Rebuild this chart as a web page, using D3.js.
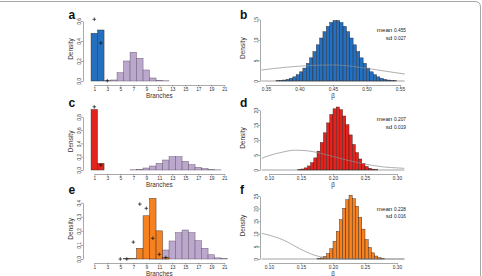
<!DOCTYPE html>
<html><head><meta charset="utf-8">
<script src="https://cdn.jsdelivr.net/npm/d3@7/dist/d3.min.js"></script>
<style>
html,body{margin:0;padding:0;background:#fff;}
svg{display:block;font-family:"Liberation Sans",Arial,sans-serif;}
</style></head>
<body>
<svg id="c" width="482" height="276"></svg>
<script>
// ---------- data ----------
const branchTicks = [1,3,5,7,9,11,13,15,17,19,21];
const branchCats = [1,2,3,4,5,6,7,8,9,10,11,12,13,14,15,16,17,18,19,20,21];

// panel a
const aPrior = [0,0,0,0.01,0.083,0.2,0.287,0.227,0.11,0.03,0.006,0.002,0,0,0,0,0,0,0,0,0];
const aPost  = [0.477,0.51,0.002,0,0,0,0,0,0,0,0,0,0,0,0,0,0,0,0,0,0];
const aPlusK = [1,2,3];
const aPlusV = [0.617,0.38,0.003];
const aYTicks = [0,0.2,0.4,0.6];

// panel c
const cPrior = [0,0,0,0,0,0,0.003,0.01,0.03,0.06,0.1,0.15,0.2,0.2,0.13,0.08,0.04,0.02,0.006,0.002,0];
const cPost  = [0.91,0.1,0,0,0,0,0,0,0,0,0,0,0,0,0,0,0,0,0,0,0];
const cPlusK = [1,2];
const cPlusV = [0.95,0.075];
const cYTicks = [0,0.2,0.4,0.6,0.8];

// panel e
const ePrior = [0,0,0,0,0,0,0,0,0,0.005,0.02,0.064,0.128,0.187,0.206,0.187,0.13,0.076,0.03,0.008,0.002];
const ePost  = [0,0,0,0,0,0.002,0.004,0.076,0.307,0.43,0.2,0.01,0,0,0,0,0,0,0,0,0];
const ePlusK = [5,6,7,8,9,10,11,12];
const ePlusV = [0.0,0.0,0.12,0.39,0.36,0.147,0.033,0.01];
const eYTicks = [0,0.1,0.2,0.3,0.4];

// panel b (beta posterior histogram, bin lower edges, width 0.005)
const bBins = [0.365,0.370,0.375,0.380,0.385,0.390,0.395,0.400,0.405,0.410,0.415,0.420,0.425,0.430,0.435,0.440,0.445,0.450,0.455,0.460,0.465,0.470,0.475,0.480,0.485,0.490,0.495,0.500,0.505,0.510,0.515,0.520,0.525,0.530,0.535,0.540];
const bDens = [0.07,0.14,0.24,0.40,0.65,1.01,1.53,2.23,3.14,4.28,5.63,7.16,8.80,10.45,11.98,13.28,14.22,14.72,14.72,14.22,13.28,11.98,10.45,8.80,7.16,5.63,4.28,3.14,2.23,1.53,1.01,0.65,0.40,0.24,0.14,0.07];
const bPriorX = [0.343,0.36,0.38,0.40,0.42,0.44,0.45,0.46,0.48,0.50,0.52,0.54,0.557];
const bPriorY = [2.67,3.0,3.35,3.6,3.8,3.88,3.9,3.85,3.55,3.1,2.6,2.1,1.7];
const bXTicks = [0.35,0.40,0.45,0.50,0.55];
const bYTicks = [0,5,10,15];

// panel d
const dBins = [0.145,0.150,0.155,0.160,0.165,0.170,0.175,0.180,0.185,0.190,0.195,0.200,0.205,0.210,0.215,0.220,0.225,0.230,0.235,0.240,0.245,0.250,0.255,0.260,0.265];
const dDens = [0.16,0.34,0.71,1.35,2.42,4.04,6.29,9.15,12.4,15.7,18.5,20.4,21.0,20.1,18.0,15.1,11.7,8.5,5.8,3.67,2.17,1.19,0.61,0.29,0.13];
const dPriorX = [0.0886,0.10,0.12,0.14,0.16,0.18,0.20,0.22,0.24,0.26,0.28,0.30,0.3114];
const dPriorY = [3.9,4.8,5.9,6.6,6.4,5.6,4.5,3.4,2.4,1.6,1.0,0.7,0.55];
const dXTicks = [0.10,0.15,0.20,0.25,0.30];
const dYTicks = [0,5,10,15,20];

// panel f
const fBins = [0.175,0.180,0.185,0.190,0.195,0.200,0.205,0.210,0.215,0.220,0.225,0.230,0.235,0.240,0.245,0.250,0.255,0.260,0.265,0.270,0.275];
const fDens = [0.17,0.44,1.01,2.12,4.05,7.0,10.96,15.6,20.1,23.5,25.3,23.9,20.9,16.5,11.85,7.71,4.55,2.44,1.18,0.52,0.21];
const fPriorX = [0.0886,0.10,0.11,0.12,0.13,0.14,0.15,0.16,0.17,0.18,0.19,0.20,0.22,0.25,0.3114];
const fPriorY = [10.2,9.5,8.7,7.8,6.6,5.2,3.8,2.6,1.6,0.9,0.45,0.2,0.05,0.0,0.0];
const fXTicks = [0.10,0.15,0.20,0.25,0.30];
const fYTicks = [0,5,10,15,20,25];

const binW = 0.005;

// ---------- drawing ----------
const svg = d3.select("#c");
const FONT_TICK = 4.8;

// frame (rounded border partly visible)
svg.append("path").attr("d","M0,1.5 H475 Q480.5,1.5 480.5,7 V276")
  .attr("fill","none").attr("stroke","#a6a6a6").attr("stroke-width",1);

function yAxis(g, y, ticks, fmt){
  const ax = d3.axisLeft(y).tickValues(ticks).tickFormat(fmt).tickSize(2).tickSizeOuter(0);
  g.call(ax);
  g.select(".domain").attr("stroke","#555").attr("stroke-width",0.5);
  g.selectAll(".tick line").attr("stroke","#555").attr("stroke-width",0.5);
  g.selectAll(".tick text").attr("font-size",FONT_TICK).attr("fill","#333")
    .attr("transform","rotate(-90)").attr("x",0).attr("y",-2.5).attr("dy",0)
    .attr("text-anchor","middle").attr("font-family","'Liberation Sans',Arial,sans-serif");
}
function xAxis(g, x, ticks, fmt){
  const ax = d3.axisBottom(x).tickValues(ticks).tickFormat(fmt).tickSize(1.6).tickSizeOuter(0).tickPadding(1);
  g.call(ax);
  g.select(".domain").attr("stroke","#555").attr("stroke-width",0.5);
  g.selectAll(".tick line").attr("stroke","#555").attr("stroke-width",0.5);
  g.selectAll(".tick text").attr("font-size",FONT_TICK).attr("fill","#333")
    .attr("font-family","'Liberation Sans',Arial,sans-serif");
}
function plus(g, cx, cy){
  g.append("path").attr("d",`M${cx-1.8},${cy}H${cx+1.8}M${cx},${cy-1.8}V${cy+1.8}`)
    .attr("stroke","#111").attr("stroke-width",0.7);
}
function letter(x, y, t){
  svg.append("text").attr("x",x).attr("y",y).attr("font-size",12).attr("font-weight","bold")
    .attr("fill","#111").text(t);
}
function ylabel(x, y, t){
  svg.append("text").attr("transform",`translate(${x},${y}) rotate(-90)`).attr("text-anchor","middle")
    .attr("font-size",6.5).attr("fill","#333").attr("dy","0.35em").text(t);
}

const xB = d3.scaleLinear().domain([1,21]).range([94.3,224.3]);

function leftPanel(cfg){
  const y = d3.scaleLinear().domain([0, cfg.yTicks[cfg.yTicks.length-1]]).range([cfg.base, cfg.top]);
  const g = svg.append("g");
  g.selectAll("rect.pr").data(branchCats.map((k,i)=>({k, v:cfg.prior[i]})).filter(d=>d.v>0))
    .enter().append("rect")
    .attr("x",d=>xB(d.k-0.5)).attr("width",d=>xB(d.k+0.5)-xB(d.k-0.5))
    .attr("y",d=>y(d.v)).attr("height",d=>cfg.base-y(d.v))
    .attr("fill","#bca8cd").attr("stroke","#5e5268").attr("stroke-width",0.45);
  g.selectAll("rect.po").data(branchCats.map((k,i)=>({k, v:cfg.post[i]})).filter(d=>d.v>0))
    .enter().append("rect")
    .attr("x",d=>xB(d.k-0.5)).attr("width",d=>xB(d.k+0.5)-xB(d.k-0.5))
    .attr("y",d=>y(d.v)).attr("height",d=>cfg.base-y(d.v))
    .attr("fill",cfg.color).attr("stroke","#3a2a2a").attr("stroke-width",0.45);
  cfg.plusK.forEach((k,i)=>plus(g, xB(k), y(cfg.plusV[i])));
  yAxis(svg.append("g").attr("transform","translate(83,0)"), y, cfg.yTicks, d3.format(".1f"));
  xAxis(svg.append("g").attr("transform",`translate(0,${cfg.base+4})`), xB, branchTicks, d3.format("d"));
  svg.append("text").attr("x",(xB(1)+xB(21))/2).attr("y",cfg.base+17.3).attr("text-anchor","middle")
    .attr("font-size",6.3).attr("fill","#333").text("Branches");
  ylabel(71,(cfg.base+cfg.top)/2-2,"Density");
  letter(68.5, cfg.letterY, cfg.letter);
}

function rightPanel(cfg){
  const x = d3.scaleLinear().domain(cfg.xDom).range(cfg.xRange);
  const y = d3.scaleLinear().domain([0, cfg.yTicks[cfg.yTicks.length-1]]).range([cfg.base, cfg.top]);
  const g = svg.append("g");
  g.selectAll("rect").data(cfg.bins.map((b,i)=>({b, v:cfg.dens[i]})))
    .enter().append("rect")
    .attr("x",d=>x(d.b)).attr("width",d=>x(d.b+binW)-x(d.b))
    .attr("y",d=>y(d.v)).attr("height",d=>cfg.base-y(d.v))
    .attr("fill",cfg.color).attr("stroke","#2a1d1d").attr("stroke-width",0.4);
  g.append("line").attr("x1",x(cfg.priorX[0])).attr("x2",x(cfg.priorX[cfg.priorX.length-1]))
    .attr("y1",cfg.base).attr("y2",cfg.base).attr("stroke","#444").attr("stroke-width",0.5);
  const line = d3.line().x(d=>x(d[0])).y(d=>y(d[1])).curve(d3.curveMonotoneX);
  g.append("path").datum(cfg.priorX.map((v,i)=>[v,cfg.priorY[i]])).attr("d",line)
    .attr("fill","none").attr("stroke","#8c8c8c").attr("stroke-width",0.7);
  yAxis(svg.append("g").attr("transform","translate(260,0)"), y, cfg.yTicks, d3.format("d"));
  xAxis(svg.append("g").attr("transform",`translate(0,${cfg.base+4})`), x, cfg.xTicks, d3.format(".2f"));
  svg.append("text").attr("x",x((cfg.xTicks[0]+cfg.xTicks[cfg.xTicks.length-1])/2)).attr("y",cfg.base+17.3)
    .attr("text-anchor","middle").attr("font-size",6.3).attr("fill","#333").text("β");
  ylabel(243,(cfg.base+cfg.top)/2-2,"Density");
  letter(240, cfg.letterY, cfg.letter);
  const t1 = svg.append("text").attr("x",406).attr("y",cfg.meanY).attr("text-anchor","end").attr("fill","#222");
  t1.append("tspan").attr("font-size",6.2).text("mean ");
  t1.append("tspan").attr("font-size",4.8).text(cfg.mean);
  const t2 = svg.append("text").attr("x",406).attr("y",cfg.meanY+7.7).attr("text-anchor","end").attr("fill","#222");
  t2.append("tspan").attr("font-size",6.2).text("sd ");
  t2.append("tspan").attr("font-size",4.8).text(cfg.sd);
}

leftPanel({letter:"a", letterY:18.5, base:81, top:21, yTicks:aYTicks, prior:aPrior, post:aPost, plusK:aPlusK, plusV:aPlusV, color:"#2470be"});
leftPanel({letter:"c", letterY:107, base:170, top:116.8, yTicks:cYTicks, prior:cPrior, post:cPost, plusK:cPlusK, plusV:cPlusV, color:"#e2231e"});
leftPanel({letter:"e", letterY:194, base:259, top:202.7, yTicks:eYTicks, prior:ePrior, post:ePost, plusK:ePlusK, plusV:ePlusV, color:"#f5821f"});

rightPanel({letter:"b", letterY:18.5, base:81, top:19.3, yTicks:bYTicks, xTicks:bXTicks, xDom:[0.35,0.55], xRange:[266,400],
  bins:bBins, dens:bDens, priorX:bPriorX, priorY:bPriorY, color:"#2470be", mean:"0.455", sd:"0.027", meanY:32});
rightPanel({letter:"d", letterY:107, base:170, top:110, yTicks:dYTicks, xTicks:dXTicks, xDom:[0.10,0.30], xRange:[269,397],
  bins:dBins, dens:dDens, priorX:dPriorX, priorY:dPriorY, color:"#e2231e", mean:"0.207", sd:"0.019", meanY:121});
rightPanel({letter:"f", letterY:194, base:259, top:196, yTicks:fYTicks, xTicks:fXTicks, xDom:[0.10,0.30], xRange:[269,397],
  bins:fBins, dens:fDens, priorX:fPriorX, priorY:fPriorY, color:"#f5821f", mean:"0.228", sd:"0.016", meanY:210.5});
</script>
</body></html>
